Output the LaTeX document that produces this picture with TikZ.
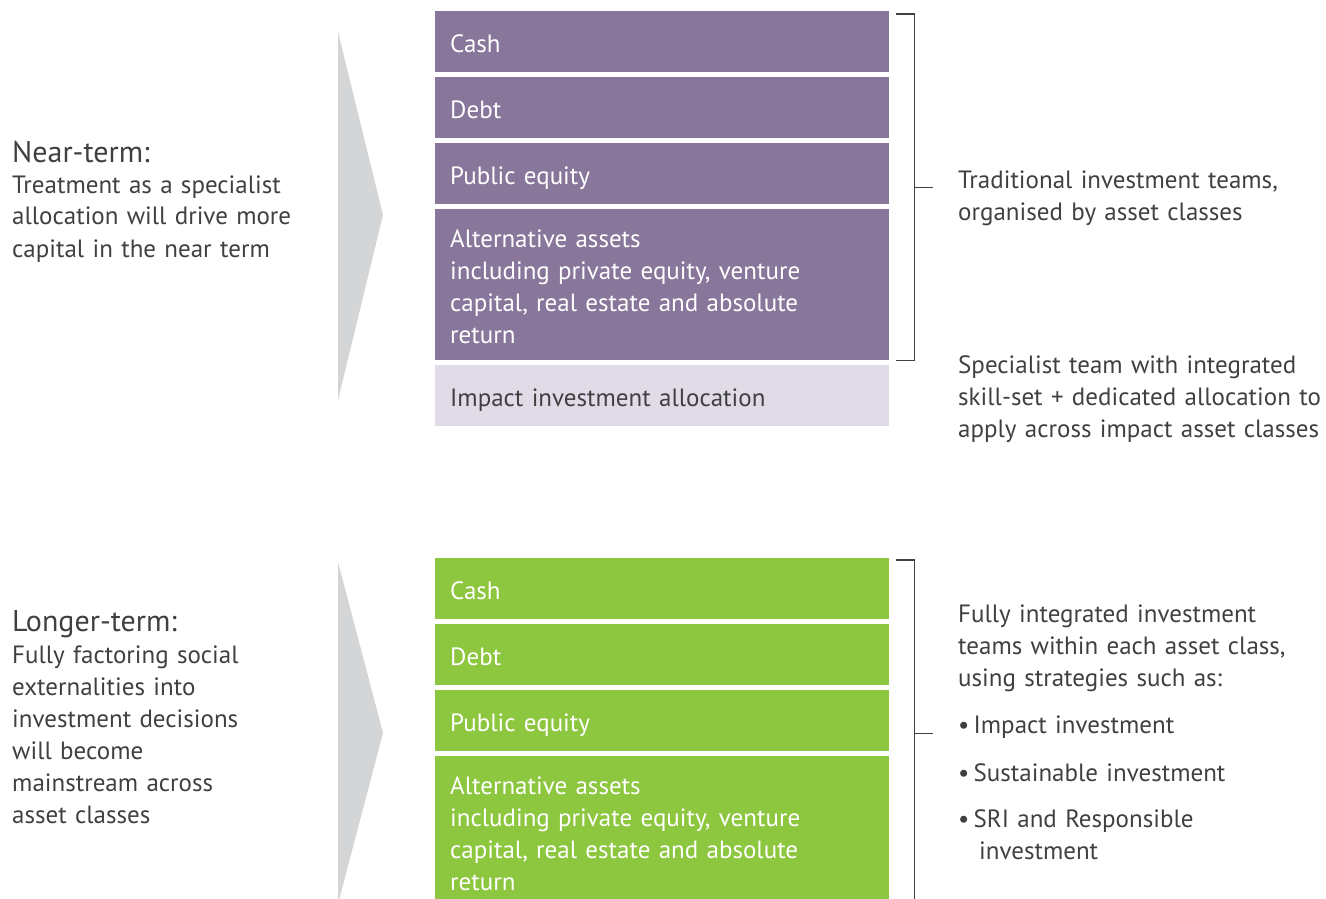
\documentclass[tikz,border=0pt]{standalone}
\usepackage{fontspec}
\setmainfont{PT Sans}
\usetikzlibrary{matrix,calc}

\definecolor{plum}{HTML}{88769B}
\definecolor{lilac}{HTML}{E0DBE7}
\definecolor{leaf}{HTML}{8DC63F}
\definecolor{haze}{HTML}{D4D5D7}
\definecolor{ink}{HTML}{404041}

\tikzset{
  cell/.style={rectangle, minimum width=454pt, minimum height=61pt,
    text width=424pt, inner xsep=15pt, inner ysep=0pt, align=left,
    text height=21pt, text depth=0pt,
    font=\fontsize{25}{32}\selectfont},
  tallcell/.style={minimum height=151pt, text height=21pt, text depth=96pt},
  note/.style={inner sep=0pt, align=left, text=ink,
    font=\fontsize{25}{32}\selectfont},
  heading/.style={note, font=\fontsize{30}{32}\selectfont},
  brace/.style={draw=ink, line width=1.3pt}
}

\begin{document}
\begin{tikzpicture}[x=1pt,y=-1pt]
  \clip (0,0) rectangle (1326,899);

  % chevrons
  \fill[haze] (338,32) -- (383,215) -- (338,400) -- cycle;
  \fill[haze] (338,562) -- (383,733) -- (338,904) -- cycle;

  \matrix (near) [matrix of nodes, row sep=5pt, inner sep=0pt,
    matrix anchor=north west, nodes={cell, fill=plum, text=white}] at (435,11)
  {
    Cash \\
    Debt \\
    Public equity \\
    |[tallcell]| {Alternative assets\\including private equity, venture\\capital, real estate and absolute\\return} \\
    |[fill=lilac, text=ink]| Impact investment allocation \\
  };

  \matrix (long) [matrix of nodes, row sep=5pt, inner sep=0pt,
    matrix anchor=north west, nodes={cell, fill=leaf, text=white}] at (435,558)
  {
    Cash \\
    Debt \\
    Public equity \\
    |[tallcell]| {Alternative assets\\including private equity, venture\\capital, real estate and absolute\\return} \\
  };

  % brackets
  \draw[brace] ([xshift=7pt,yshift=-3pt]near-1-1.north east) -- ++(18,0) coordinate (nt)
    |- ([xshift=7pt]near-4-1.south east) coordinate (nb);
  \draw[brace] ($(nt)!.5!(nt |- nb)$) -- ++(19,0);
  \draw[brace] ([xshift=7pt,yshift=-2pt]long-1-1.north east) -- ++(18,0) coordinate (lt)
    |- ([xshift=7pt]long-4-1.south east) coordinate (lb);
  \draw[brace] ($(lt)!.5!(lt |- lb)$) -- ++(19,0);

  % left side
  \node[heading, anchor=base west] (neartitle) at (12,162) {Near-term:};
  \node[note, text width=300pt, anchor=base west] (neartext) at (12,193)
    {Treatment as a specialist\\allocation will drive more\\capital in the near term};
  \node[heading, anchor=base west] (longtitle) at (12,631) {Longer-term:};
  \node[note, text width=300pt, anchor=base west] (longtext) at (12,663)
    {Fully factoring social\\externalities into\\investment decisions\\will become\\mainstream across\\asset classes};

  % right side
  \node[note, text width=368pt, anchor=base west] (trad) at (958,188)
    {Traditional investment teams,\\organised by asset classes};
  \node[note, text width=368pt, anchor=base west] (spec) at (958,373)
    {Specialist team with integrated\\skill-set + dedicated allocation to\\apply across impact asset classes};
  \node[note, text width=368pt, anchor=base west] (integ) at (958,622)
    {Fully integrated investment\\teams within each asset class,\\using strategies such as:\\[15pt]
     \textbullet\,Impact investment\\[16pt]
     \textbullet\,Sustainable investment\\[14pt]
     \textbullet\,SRI and Responsible\\\hspace*{21pt}investment};
\end{tikzpicture}
\end{document}
